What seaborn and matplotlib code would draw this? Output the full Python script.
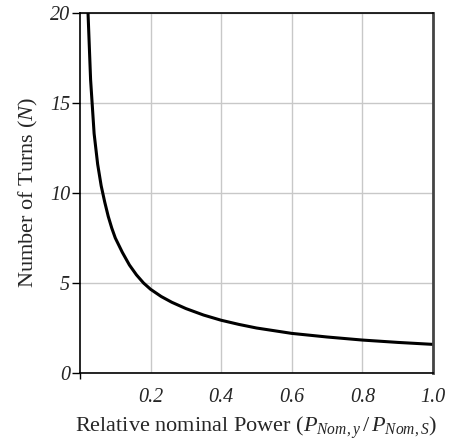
import matplotlib
matplotlib.use("Agg")
import matplotlib.pyplot as plt
import seaborn as sns
import pandas as pd

# Data
power_ratio = [0.02, 0.03, 0.04, 0.05, 0.06, 0.07, 0.08, 0.09, 0.10, 0.12, 0.14,
               0.16, 0.18, 0.20, 0.23, 0.26, 0.30, 0.35, 0.40, 0.45, 0.50,
               0.60, 0.70, 0.80, 0.90, 1.00]
turns = [21.4, 16.3, 13.3, 11.6, 10.4, 9.5, 8.7, 8.05, 7.5, 6.7, 6.0,
         5.45, 5.0, 4.65, 4.25, 3.93, 3.58, 3.22, 2.93, 2.7, 2.5,
         2.2, 2.0, 1.83, 1.7, 1.59]
x_ticks = [0.2, 0.4, 0.6, 0.8, 1.0]
x_tick_labels = ["0.2", "0.4", "0.6", "0.8", "1.0"]
y_ticks = [0, 5, 10, 15, 20]
y_tick_labels = ["0", "5", "10", "15", "20"]

sns.set_style("white")
plt.rcParams["font.family"] = ["Liberation Serif", "DejaVu Serif"]
plt.rcParams["mathtext.fontset"] = "custom"
plt.rcParams["mathtext.rm"] = "Liberation Serif"
plt.rcParams["mathtext.it"] = "Liberation Serif:italic"

df = pd.DataFrame({"x": power_ratio, "y": turns})

fig = plt.figure(figsize=(4.53, 4.40), dpi=100)
ax = fig.add_axes([80 / 453, 67 / 440, 353 / 453, 360 / 440])

sns.lineplot(data=df, x="x", y="y", ax=ax, color="black", linewidth=2.2)

ax.set_xlim(0, 1.0)
ax.set_ylim(0, 20)
ax.set_xticks(x_ticks)
ax.set_xticklabels(x_tick_labels, fontstyle="italic", fontsize=14.5)
ax.set_xticks([0], minor=True)
ax.set_yticks(y_ticks)
ax.set_yticklabels(y_tick_labels, fontstyle="italic", fontsize=14.5)

ax.grid(True, which="major", color="#c8c8c8", linewidth=1.0)
ax.set_axisbelow(True)

ax.tick_params(axis="x", which="major", length=0, pad=11)
ax.tick_params(axis="x", which="minor", length=4, width=1, direction="out", color="black", bottom=True)
ax.tick_params(axis="y", length=6, width=1, direction="out", color="black", pad=1, left=True)

for side in ["left", "bottom", "top"]:
    ax.spines[side].set_visible(True)
    ax.spines[side].set_color("black")
    ax.spines[side].set_linewidth(1.2)
ax.spines["right"].set_visible(True)
ax.spines["right"].set_color("#444444")
ax.spines["right"].set_linewidth(2.0)

ax.set_xlabel(r"Relative nominal Power ($P_{Nom,y}\,/\,P_{Nom,S}$)", fontsize=16, labelpad=5)
ax.set_ylabel(r"Number of Turns ($N$)", fontsize=16, labelpad=7)

fig.savefig("out.png", dpi=100)
